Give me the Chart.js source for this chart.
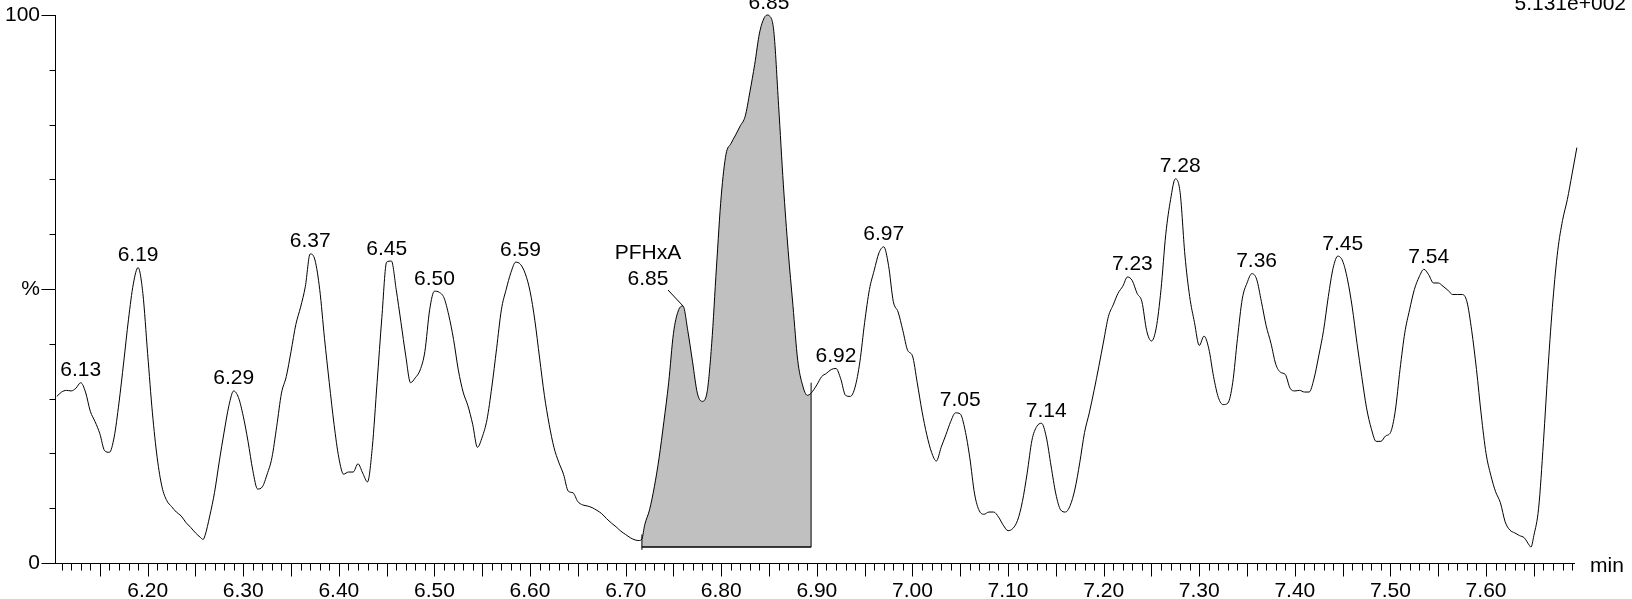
<!DOCTYPE html>
<html>
<head>
<meta charset="utf-8">
<script src="https://cdn.jsdelivr.net/npm/chart.js@4.4.1/dist/chart.umd.min.js"></script>
<style>
  html, body { margin: 0; padding: 0; background: #fff; }
  canvas { display: block; }
</style>
</head>
<body>
<canvas id="chart" width="1632" height="599"></canvas>
<script>
// ===== Data =====
const times = [
  6.105, 6.110, 6.115, 6.120, 6.125, 6.130, 6.135, 6.140, 6.145, 6.150,
  6.155, 6.160, 6.165, 6.170, 6.175, 6.180, 6.185, 6.190, 6.195, 6.200,
  6.205, 6.210, 6.215, 6.220, 6.225, 6.230, 6.235, 6.240, 6.245, 6.250,
  6.255, 6.258, 6.260, 6.265, 6.270, 6.275, 6.280, 6.285, 6.290, 6.295,
  6.300, 6.305, 6.310, 6.315, 6.320, 6.325, 6.330, 6.335, 6.340, 6.345,
  6.350, 6.355, 6.360, 6.365, 6.370, 6.375, 6.380, 6.385, 6.390, 6.395,
  6.400, 6.405, 6.410, 6.415, 6.420, 6.425, 6.430, 6.435, 6.440, 6.445,
  6.450, 6.455, 6.460, 6.465, 6.470, 6.475, 6.480, 6.485, 6.490, 6.495,
  6.500, 6.505, 6.510, 6.515, 6.520, 6.525, 6.530, 6.535, 6.540, 6.545,
  6.550, 6.555, 6.560, 6.565, 6.570, 6.575, 6.580, 6.585, 6.590, 6.595,
  6.600, 6.605, 6.610, 6.615, 6.620, 6.625, 6.630, 6.635, 6.640, 6.645,
  6.650, 6.655, 6.660, 6.665, 6.670, 6.675, 6.680, 6.685, 6.690, 6.695,
  6.700, 6.705, 6.710, 6.714, 6.717, 6.720, 6.725, 6.730, 6.735, 6.740,
  6.745, 6.750, 6.755, 6.760, 6.765, 6.770, 6.775, 6.780, 6.785, 6.790,
  6.795, 6.800, 6.805, 6.810, 6.815, 6.820, 6.825, 6.830, 6.835, 6.840,
  6.845, 6.8485, 6.850, 6.855, 6.860, 6.865, 6.870, 6.875, 6.880, 6.885,
  6.890, 6.894,
  6.900, 6.905, 6.910, 6.915, 6.920, 6.925, 6.930, 6.935, 6.940, 6.945,
  6.950, 6.955, 6.960, 6.965, 6.970, 6.975, 6.980, 6.985, 6.990, 6.995,
  7.000, 7.005, 7.010, 7.015, 7.020, 7.025, 7.030, 7.035, 7.040, 7.045,
  7.050, 7.055, 7.060, 7.065, 7.070, 7.075, 7.080, 7.085, 7.090, 7.095,
  7.100, 7.105, 7.110, 7.115, 7.120, 7.125, 7.130, 7.135, 7.140, 7.145,
  7.150, 7.155, 7.160, 7.165, 7.170, 7.175, 7.180, 7.185, 7.190, 7.195,
  7.200, 7.205, 7.210, 7.215, 7.220, 7.225, 7.230, 7.235, 7.240, 7.245,
  7.250, 7.255, 7.260, 7.265, 7.270, 7.275, 7.280, 7.285, 7.290, 7.295,
  7.300, 7.305, 7.310, 7.315, 7.320, 7.325, 7.330, 7.335, 7.340, 7.345,
  7.350, 7.355, 7.360, 7.365, 7.370, 7.375, 7.380, 7.385, 7.390, 7.395,
  7.400, 7.405, 7.410, 7.415, 7.420, 7.425, 7.430, 7.435, 7.440, 7.445,
  7.450, 7.455, 7.460, 7.465, 7.470, 7.475, 7.480, 7.485, 7.490, 7.495,
  7.500, 7.505, 7.510, 7.515, 7.520, 7.525, 7.530, 7.535, 7.540, 7.545,
  7.550, 7.555, 7.560, 7.565, 7.570, 7.575, 7.580, 7.585, 7.590, 7.595,
  7.600, 7.605, 7.610, 7.615, 7.620, 7.625, 7.630, 7.635, 7.640, 7.645,
  7.647, 7.650, 7.655, 7.660, 7.665, 7.670, 7.675, 7.680, 7.685, 7.690,
  7.695
];

const intensity = [
  30.4, 31.2, 31.5, 31.4, 31.9, 32.9, 31.2, 27.7, 25.8, 23.6,
  20.5, 20.2, 23.0, 29.2, 36.7, 44.5, 50.9, 53.9, 49.2, 38.2,
  27.4, 19.2, 13.9, 11.4, 10.3, 9.3, 8.6, 7.4, 6.5, 5.5,
  4.7, 4.3, 5.0, 8.6, 12.9, 18.6, 23.9, 28.7, 31.4, 30.2,
  26.8, 22.2, 16.9, 13.5, 13.9, 16.2, 19.2, 24.9, 31.0, 34.0,
  38.6, 43.5, 46.7, 50.5, 56.4, 55.3, 49.9, 41.0, 32.9, 25.3,
  19.2, 16.2, 16.6, 16.6, 18.1, 16.4, 14.8, 21.1, 32.9, 44.8,
  54.9, 55.1, 49.9, 43.9, 37.8, 32.9, 33.8, 35.2, 38.6, 46.2,
  49.6, 49.4, 48.4, 45.2, 40.8, 35.2, 31.2, 28.7, 25.3, 21.1,
  23.0, 26.2, 32.1, 39.1, 46.2, 49.9, 53.0, 54.9, 54.5, 52.8,
  49.6, 44.3, 37.4, 30.6, 25.3, 21.1, 18.4, 16.2, 13.1, 12.8,
  11.2, 10.6, 10.4, 10.1, 9.6, 9.0, 8.1, 7.3, 6.6, 5.8,
  5.2, 4.6, 4.2, 4.1, 4.4, 7.0, 9.7, 13.9, 19.2, 25.8,
  32.9, 41.9, 46.0, 46.9, 42.4, 36.7, 31.0, 29.5, 31.0, 40.0,
  54.0, 67.0, 74.6, 76.5, 78.1, 79.8, 81.5, 86.0, 91.0, 96.7,
  99.5, 100.0, 99.9, 97.0, 83.5, 69.0, 57.0, 47.0, 37.0, 32.5,
  30.6, 31.0,
  32.5, 34.0, 34.6, 35.3, 35.5, 33.6, 30.6, 30.4, 32.1, 36.7,
  43.9, 49.9, 53.4, 56.6, 57.7, 54.3, 47.7, 45.8, 42.4, 38.8,
  37.8, 32.9, 27.7, 23.4, 20.2, 18.6, 21.1, 23.4, 25.8, 27.4,
  27.2, 24.3, 19.2, 12.6, 9.5, 8.9, 9.3, 9.3, 8.4, 6.9,
  5.9, 6.3, 7.8, 11.2, 16.4, 22.4, 24.9, 25.5, 23.0, 17.7,
  12.6, 9.7, 9.3, 10.5, 13.5, 18.3, 23.8, 27.4, 31.5, 35.9,
  40.5, 45.0, 47.1, 49.2, 50.5, 52.2, 51.5, 49.2, 47.7, 42.4,
  40.5, 42.9, 49.9, 60.0, 66.3, 70.1, 67.6, 56.2, 48.6, 43.9,
  39.7, 41.4, 39.1, 34.0, 30.2, 28.9, 29.2, 32.9, 41.0, 48.2,
  51.1, 52.8, 51.8, 47.7, 43.3, 40.1, 36.3, 34.8, 34.4, 31.9,
  31.4, 31.5, 31.2, 31.2, 33.6, 37.8, 42.4, 48.6, 53.8, 56.0,
  55.1, 51.8, 46.7, 40.1, 34.0, 28.3, 24.5, 22.2, 22.2, 23.2,
  23.8, 27.7, 35.3, 42.0, 46.2, 49.9, 52.2, 53.6, 52.6, 51.1,
  51.1, 50.5, 49.8, 49.0, 49.0, 49.0, 47.7, 42.4, 35.3, 27.0,
  20.0, 16.0, 13.0, 11.0, 7.5, 6.0, 5.5, 5.0, 4.6, 3.3,
  2.9, 5.0, 10.0, 22.0, 36.0, 48.0, 57.0, 62.5, 66.3, 71.0,
  75.8
];

// retention times printed above the peaks
const peakTimes = [6.13, 6.19, 6.29, 6.37, 6.45, 6.50, 6.59, 6.85, 6.92,
  6.97, 7.05, 7.14, 7.23, 7.28, 7.36, 7.45, 7.54];

// integrated compound peak
const compoundName = 'PFHxA';
const compoundTime = 6.85;
const compoundLabelPeak = 6.76;
const integrationStart = 6.717;
const integrationEnd = 6.894;
const integrationBaseline = 2.9;
const integrationEndTop = 32.9;
const integrationStartMark = [2.4, 5.2];

const xTickLabels = [6.20, 6.30, 6.40, 6.50, 6.60, 6.70, 6.80, 6.90, 7.00,
  7.10, 7.20, 7.30, 7.40, 7.50, 7.60];
const yTickValues = [0, 10, 20, 30, 40, 50, 60, 70, 80, 90, 100];
const yTickText = ['0', '', '', '', '', '%', '', '', '', '', '100'];
const maxIntensityText = '5.131e+002';
const xUnit = 'min';

// ===== Helpers =====
const FONT_FAMILY = '"Liberation Sans", Arial, Helvetica, sans-serif';
const FONT_SIZE = 21;
const FONT = `${FONT_SIZE}px ${FONT_FAMILY}`;

function localMax(t, win = 0.012) {
  let best = -Infinity;
  times.forEach((tt, i) => {
    if (Math.abs(tt - t) <= win && intensity[i] > best) best = intensity[i];
  });
  return best;
}

const curve = times.map((t, i) => ({ x: t, y: intensity[i] }));
const areaPoints = curve.filter(p => p.x >= integrationStart && p.x <= integrationEnd);

// ticks, peak labels and the odd bits of text around the frame
const decorations = {
  id: 'decorations',
  afterDraw(chart) {
    const { ctx, chartArea, scales: { x, y } } = chart;
    ctx.save();
    ctx.strokeStyle = '#000';
    ctx.lineWidth = 1;

    const axisY = Math.round(chartArea.bottom) + 0.5;
    const axisX = Math.round(chartArea.left) + 0.5;
    ctx.beginPath();
    for (let i = Math.ceil(x.min * 100); i <= Math.floor(x.max * 100); i++) {
      const px = Math.round(x.getPixelForValue(i / 100)) + 0.5;
      const len = i % 5 === 0 ? 13 : 7;
      ctx.moveTo(px, axisY);
      ctx.lineTo(px, axisY + len);
    }
    yTickValues.forEach((v, i) => {
      const py = Math.round(y.getPixelForValue(v)) + 0.5;
      const len = yTickText[i] ? 14 : 6;
      ctx.moveTo(axisX, py);
      ctx.lineTo(axisX - len, py);
    });
    ctx.stroke();

    ctx.font = FONT;
    ctx.fillStyle = '#000';
    ctx.textAlign = 'center';
    ctx.textBaseline = 'alphabetic';
    peakTimes.forEach(t => {
      const px = x.getPixelForValue(t);
      const py = y.getPixelForValue(localMax(t));
      ctx.fillText(t.toFixed(2), px, py - 6.5);
    });

    // compound name with leader line
    const ax = x.getPixelForValue(compoundLabelPeak);
    const ay = y.getPixelForValue(localMax(compoundLabelPeak));
    ctx.textBaseline = 'middle';
    ctx.fillText(compoundName, ax - 35, ay - 53);
    ctx.fillText(compoundTime.toFixed(2), ax - 35, ay - 27);
    ctx.beginPath();
    ctx.moveTo(ax - 15, ay - 16);
    ctx.lineTo(ax, ay);
    ctx.stroke();

    ctx.textBaseline = 'alphabetic';
    ctx.textAlign = 'right';
    ctx.fillText(maxIntensityText, chart.width - 6, 10);

    ctx.textAlign = 'left';
    ctx.fillText(xUnit, chartArea.right + 16, chartArea.bottom + 8.5);
    ctx.restore();
  }
};

const line = (data, width) => ({
  data, borderColor: '#000', borderWidth: width, pointRadius: 0, fill: false, tension: 0
});

new Chart(document.getElementById('chart'), {
  type: 'line',
  data: {
    datasets: [
      { ...line(curve, 1), clip: false, cubicInterpolationMode: 'monotone' },
      line([{ x: integrationStart, y: integrationBaseline }, { x: integrationEnd, y: integrationBaseline }], 1.5),
      line([{ x: integrationEnd, y: integrationBaseline }, { x: integrationEnd, y: integrationEndTop }], 1),
      line(integrationStartMark.map(v => ({ x: integrationStart, y: v })), 1),
      {
        data: areaPoints,
        borderColor: 'rgba(0,0,0,0)',
        borderWidth: 0,
        backgroundColor: '#c0c0c0',
        pointRadius: 0,
        cubicInterpolationMode: 'monotone',
        fill: { value: integrationBaseline }
      }
    ]
  },
  options: {
    responsive: false,
    animation: false,
    devicePixelRatio: 1,
    layout: { padding: { left: 0, right: 58, top: 15, bottom: 0 } },
    plugins: { legend: { display: false }, tooltip: { enabled: false } },
    scales: {
      x: {
        type: 'linear',
        min: 6.1031,
        max: 7.692,
        grid: { display: false, drawTicks: false },
        border: { display: true, color: '#000', width: 1 },
        afterBuildTicks: s => { s.ticks = xTickLabels.map(v => ({ value: v })); },
        afterFit: s => { s.height = 36; s.paddingLeft = 0; s.paddingRight = 0; },
        ticks: {
          autoSkip: false, maxRotation: 0, padding: 16, color: '#000',
          font: { family: FONT_FAMILY, size: FONT_SIZE },
          callback: v => v.toFixed(2)
        }
      },
      y: {
        min: 0,
        max: 100,
        grid: { display: false, drawTicks: false },
        border: { display: true, color: '#000', width: 1 },
        afterBuildTicks: s => { s.ticks = yTickValues.map(v => ({ value: v })); },
        afterFit: s => { s.width = 55; s.paddingTop = 0; s.paddingBottom = 0; },
        ticks: {
          padding: 15, color: '#000',
          font: { family: FONT_FAMILY, size: FONT_SIZE },
          callback: (v, i) => yTickText[i]
        }
      }
    }
  },
  plugins: [decorations]
});
</script>
</body>
</html>
